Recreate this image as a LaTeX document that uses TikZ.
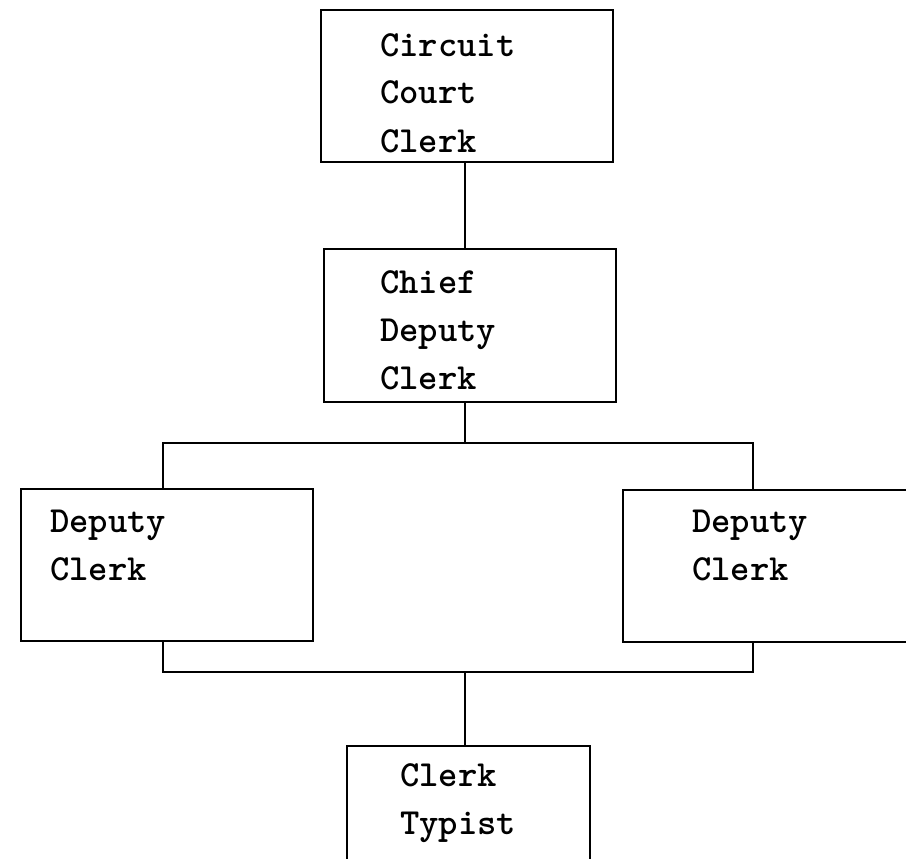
\documentclass[tikz,border=0pt]{standalone}
\begin{document}
\begin{tikzpicture}[x=1pt,y=-1pt,
  orgbox/.style={draw, line width=2.6pt, rectangle, inner sep=0pt},
  lbl/.style={font=\ttfamily\bfseries\fontsize{36.8}{48}\selectfont, align=left,
              inner sep=0pt, anchor=base west},
  link/.style={line width=2.3pt}]
  \useasboundingbox (0,0) rectangle (906,859);
  \clip (0,0) rectangle (906,859);
  \fill[white] (0,0) rectangle (906,859);

  % boxes
  \node[orgbox, minimum width=292pt, minimum height=152pt] (ccc) at (467,86) {};
  \node[orgbox, minimum width=292pt, minimum height=153pt] (cdc) at (470,325.5) {};
  \node[orgbox, minimum width=292pt, minimum height=152pt] (dcl) at (167,565) {};
  \node[orgbox, minimum width=320pt, minimum height=152pt] (dcr) at (783,566) {};
  \node[orgbox, minimum width=243pt, minimum height=150pt] (ct) at (468.5,821) {};

  % labels (anchored on the baseline of their last line)
  \node[lbl] (ccct) at (380,152) {Circuit\\Court\\Clerk};
  \node[lbl] (cdct) at (380,389) {Chief\\Deputy\\Clerk};
  \node[lbl] (dclt) at (50,580) {Deputy\\Clerk};
  \node[lbl] (dcrt) at (692,580) {Deputy\\Clerk};
  \node[lbl] (ctt) at (400,834) {Clerk\\Typist};

  % junction points
  \coordinate (tl) at (163,443);
  \coordinate (tm) at (465,443);
  \coordinate (tr) at (753,443);
  \coordinate (bl) at (163,672);
  \coordinate (bm) at (465,672);
  \coordinate (br) at (753,672);

  % connectors
  \draw[link] (ccc.south -| tm) -- (cdc.north -| tm);
  \draw[link] (cdc.south -| tm) -- (tm);
  \draw[link] (dcl.north -| tl) -- (tl) -- (tr) -- (dcr.north -| tr);
  \draw[link] (dcl.south -| bl) -- (bl) -- (br) -- (dcr.south -| br);
  \draw[link] (bm) -- (ct.north -| bm);
\end{tikzpicture}
\end{document}
